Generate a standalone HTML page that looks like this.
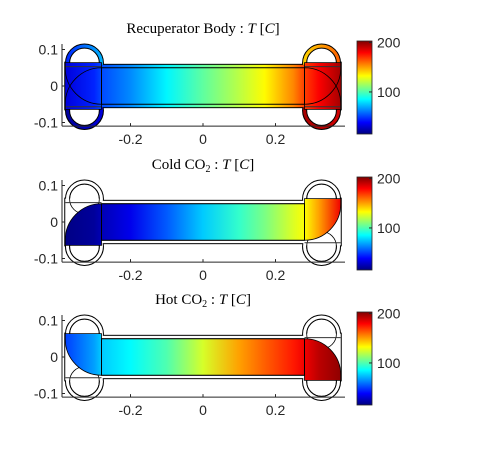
<!DOCTYPE html>
<html><head><meta charset="utf-8">
<style>
html,body{margin:0;padding:0;background:#fff;}
svg{display:block;font-family:"Liberation Sans",sans-serif;}
.t{font-family:"Liberation Serif",serif;font-size:15px;}
</style></head>
<body>
<svg id="fig" width="477" height="455" viewBox="0 0 477 455" xmlns="http://www.w3.org/2000/svg"></svg>
<script>
// ---- data ----
const xPositions = [-0.38, -0.3, -0.28, -0.2, -0.1, 0, 0.1, 0.17, 0.25, 0.28, 0.32, 0.38];
const bodyTemps  = [32, 45, 52, 64, 84, 103, 120, 133, 155, 168, 180, 196];
const coldTemps  = [16, 20, 25, 35, 55, 76, 95, 108, 126, 132, 150, 182];
const hotTemps   = [50, 68, 76, 85, 100, 125, 150, 162, 175, 182, 192, 200];
// ring temps [left edge, right edge]: top-left, bottom-left, top-right, bottom-right
const ringTemps = [[45, 72], [20, 32], [140, 162], [196, 188]];
const panelTitles = ["Recuperator Body : ", "Cold CO", "Hot CO"];
const xTickValues = [-0.2, 0, 0.2];
const xTickLabels = ["-0.2", "0", "0.2"];
const yTickValues = [0.1, 0, -0.1];
const yTickLabels = ["0.1", "0", "-0.1"];
const cbarTickValues = [200, 100];
const cLim = [15, 203];

const NS = "http://www.w3.org/2000/svg";
const svg = document.getElementById("fig");
function mk(tag, attrs, parent){
  const e = document.createElementNS(NS, tag);
  for (const k in attrs) e.setAttribute(k, attrs[k]);
  (parent||svg).appendChild(e);
  return e;
}
function jet(v){
  const r = Math.min(Math.max(Math.min(4*v-1.5, -4*v+4.5),0),1);
  const g = Math.min(Math.max(Math.min(4*v-0.5, -4*v+3.5),0),1);
  const b = Math.min(Math.max(Math.min(4*v+0.5, -4*v+2.5),0),1);
  return "rgb("+Math.round(r*255)+","+Math.round(g*255)+","+Math.round(b*255)+")";
}
function tcol(t){ return jet((t-cLim[0])/(cLim[1]-cLim[0])); }
const SX = 362.5, SY = 365, CX = 203;
const px = x => CX + SX*x;
const defs = mk("defs", {});

function gradient(id, temps){
  const g = mk("linearGradient", {id:id, gradientUnits:"userSpaceOnUse", x1:px(-0.38), y1:0, x2:px(0.38), y2:0}, defs);
  xPositions.forEach((x,i)=>{
    mk("stop", {offset:((x+0.38)/0.76).toFixed(4), "stop-color":tcol(temps[i])}, g);
  });
}
gradient("gBody", bodyTemps);
gradient("gCold", coldTemps);
gradient("gHot", hotTemps);

function panel(idx, off, temps, gid){
  const py = y => off - SY*y;
  const G = mk("g", {}, svg);
  
  
  const R = (x0,x1,y0,y1)=>({x:px(x0), y:py(y1), width:SX*(x1-x0), height:SY*(y1-y0)});
  const rings = [[-0.327,0.063],[-0.327,-0.067],[0.327,0.063],[0.327,-0.067]];
  const rO = SX*0.051, rI = SX*0.041;
  const ringFills = rings.map((c,i)=>{
    if(idx!==0) return "#fff";
    const g = mk("linearGradient",{id:"ring"+i,gradientUnits:"userSpaceOnUse",x1:px(c[0])-rO,y1:0,x2:px(c[0])+rO,y2:0},defs);
    mk("stop",{offset:0,"stop-color":tcol(ringTemps[i][0])},g);
    mk("stop",{offset:1,"stop-color":tcol(ringTemps[i][1])},g);
    return "url(#ring"+i+")";
  });
  const pieces = [];
  pieces.push(["rect", R(-0.28,0.28,-0.058,0.058)]);
  pieces.push(["rect", R(-0.38,-0.28,-0.064,0.064)]);
  pieces.push(["rect", R(0.28,0.38,-0.064,0.064)]);
  const fill = idx===0 ? "url(#gBody)" : "#fff";
  rings.forEach(c=>mk("circle",{cx:px(c[0]),cy:py(c[1]),r:rO,fill:"#000",stroke:"#000","stroke-width":2},G));
  pieces.forEach(p=>{ const a=Object.assign({},p[1],{fill:"#000",stroke:"#000","stroke-width":2}); mk(p[0],a,G); });
  rings.forEach((c,i)=>mk("circle",{cx:px(c[0]),cy:py(c[1]),r:rO,fill:ringFills[i]},G));
  rings.forEach(c=>mk("circle",{cx:px(c[0]),cy:py(c[1]),r:rI,fill:"#fff",stroke:"#000","stroke-width":1},G));
  pieces.forEach(p=>{ const a=Object.assign({},p[1],{fill:fill}); mk(p[0],a,G); });
  if(idx>0){
    rings.forEach(c=>mk("circle",{cx:px(c[0]),cy:py(c[1]),r:rI,fill:"none",stroke:"#000","stroke-width":0.8},G));
  }
  [[-0.38,-0.28],[0.28,0.38]].forEach(s=>{
    [0.053,-0.057].forEach(y=>mk("line",{x1:px(s[0]),x2:px(s[1]),y1:py(y),y2:py(y),stroke:"#333","stroke-width":1},G));
  });
  if(idx>0){
    [0.05,-0.05].forEach(y=>mk("line",{x1:px(-0.28),x2:px(0.28),y1:py(y),y2:py(y),stroke:"#777","stroke-width":1.2},G));
  }
  const r = SX*0.1;
  function qpath(side){
    if(side==="coldL") return `M${px(-0.28)},${py(0.05)} A${r},${r} 0 0 0 ${px(-0.38)},${py(-0.05)} L${px(-0.38)},${py(-0.064)} L${px(-0.28)},${py(-0.064)} Z`;
    if(side==="coldR") return `M${px(0.28)},${py(0.064)} L${px(0.38)},${py(0.064)} L${px(0.38)},${py(0.05)} A${r},${r} 0 0 1 ${px(0.28)},${py(-0.05)} Z`;
    if(side==="hotL") return `M${px(-0.28)},${py(-0.05)} A${r},${r} 0 0 1 ${px(-0.38)},${py(0.05)} L${px(-0.38)},${py(0.064)} L${px(-0.28)},${py(0.064)} Z`;
    if(side==="hotR") return `M${px(0.28)},${py(-0.064)} L${px(0.38)},${py(-0.064)} L${px(0.38)},${py(-0.05)} A${r},${r} 0 0 0 ${px(0.28)},${py(0.05)} Z`;
  }
  if(idx>0){
    const sides = idx===1 ? ["coldL","coldR"] : ["hotL","hotR"];
    const ch = mk("rect", Object.assign(R(-0.28,0.28,-0.05,0.05),{fill:"url(#"+gid+")"}), G);
    
    
    sides.forEach(s=>mk("path",{d:qpath(s),fill:"url(#"+gid+")"},G));
  }
  mk("rect", Object.assign(R(-0.28,0.28,-0.05,0.05),{fill:"none",stroke:"#000","stroke-width":1}), G);
  const arcs = idx===0 ? ["coldL","coldR","hotL","hotR"] : (idx===1?["coldL","coldR"]:["hotL","hotR"]);
  arcs.forEach(s=>mk("path",{d:qpath(s),fill:"none",stroke:"#000","stroke-width":0.8},G));
  const axL = 62, axR = 345, axT = py(0.115), axB = py(-0.11);
  const ax = mk("g",{},G);
  
  
  mk("line",{x1:axL,x2:axL,y1:axT,y2:axB,stroke:"#262626","stroke-width":1},ax);
  mk("line",{x1:axL,x2:axR,y1:axB,y2:axB,stroke:"#262626","stroke-width":1},ax);
  xTickValues.forEach((v,i)=>{
    mk("line",{x1:px(v),x2:px(v),y1:axB,y2:axB-3,stroke:"#262626"},ax);
    const t = mk("text",{x:px(v),y:axB+18,"text-anchor":"middle","font-size":14,fill:"#262626"},ax);
    t.textContent = xTickLabels[i];
    
    
  });
  yTickValues.forEach((v,i)=>{
    mk("line",{x1:axL,x2:axL+3,y1:py(v),y2:py(v),stroke:"#262626"},ax);
    const t = mk("text",{x:axL-4,y:py(v)+5,"text-anchor":"end","font-size":14,fill:"#262626"},ax);
    t.textContent = yTickLabels[i];
    
    
  });
  const tt = mk("text",{x:203,y:off-53,"text-anchor":"middle",class:"t",fill:"#000"},G);
  
  
  if(idx===0){
    tt.innerHTML = 'Recuperator Body : <tspan font-style="italic">T</tspan> [<tspan font-style="italic">C</tspan>]';
  } else {
    tt.innerHTML = panelTitles[idx]+'<tspan font-size="10" dy="3">2</tspan><tspan dy="-3"> : </tspan><tspan font-style="italic">T</tspan> [<tspan font-style="italic">C</tspan>]';
  }
  const cbT = off-45, cbB = off+48, cbX = 357, cbW = 15;
  const cg = mk("linearGradient",{id:"cb"+idx,x1:0,y1:1,x2:0,y2:0},defs);
  for(let k=0;k<=8;k++) mk("stop",{offset:k/8,"stop-color":jet(k/8)},cg);
  const cb = mk("rect",{x:cbX,y:cbT,width:cbW,height:cbB-cbT,fill:"url(#cb"+idx+")",stroke:"#262626","stroke-width":0.8},G);
  
  
  cbarTickValues.forEach(v=>{
    const y = cbB - (v-cLim[0])/(cLim[1]-cLim[0])*(cbB-cbT);
    mk("line",{x1:cbX+cbW-3,x2:cbX+cbW,y1:y,y2:y,stroke:"#262626"},G);
    const t = mk("text",{x:cbX+cbW+5,y:y+5,"font-size":14,fill:"#262626"},G);
    t.textContent = String(v);
    
    
  });
}
panel(0, 86, bodyTemps, "gBody");
panel(1, 222, coldTemps, "gCold");
panel(2, 357, hotTemps, "gHot");
</script>
</body></html>
